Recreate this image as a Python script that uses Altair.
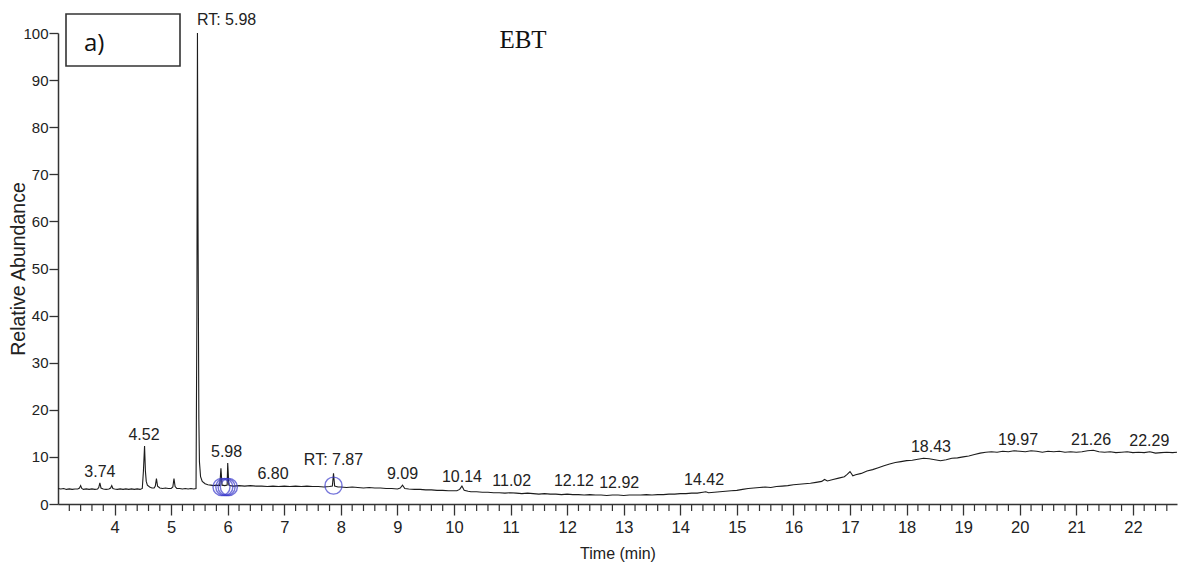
import altair as alt
import pandas as pd

# Total ion chromatogram, (retention time in min, relative abundance in %)
TRACE_3_TO_5_5 = [
    (3.00, 3.3), (3.05, 3.2), (3.10, 3.3), (3.15, 3.1), (3.20, 3.2), (3.25, 3.1),
    (3.30, 3.2), (3.35, 3.2), (3.38, 3.4), (3.40, 3.9), (3.42, 3.3), (3.45, 3.1),
    (3.50, 3.2), (3.55, 3.1), (3.60, 3.2), (3.65, 3.1), (3.70, 3.2), (3.72, 3.5),
    (3.74, 4.5), (3.76, 3.4), (3.80, 3.2), (3.85, 3.1), (3.90, 3.2), (3.93, 3.4),
    (3.95, 3.9), (3.97, 3.3), (4.00, 3.2), (4.05, 3.1), (4.10, 3.2), (4.15, 3.1),
    (4.20, 3.2), (4.25, 3.1), (4.30, 3.2), (4.35, 3.1), (4.40, 3.2), (4.45, 3.1),
    (4.49, 3.3), (4.51, 7.0), (4.53, 12.3), (4.545, 7.0), (4.56, 4.8), (4.58, 4.0),
    (4.62, 3.6), (4.66, 3.4), (4.70, 3.4), (4.72, 3.8), (4.74, 5.4), (4.76, 3.8),
    (4.80, 3.4), (4.85, 3.3), (4.90, 3.4), (4.95, 3.3), (5.00, 3.3), (5.03, 3.6),
    (5.05, 5.4), (5.07, 3.7), (5.10, 3.3), (5.15, 3.3), (5.20, 3.2), (5.25, 3.3),
    (5.30, 3.2), (5.35, 3.3), (5.40, 3.2), (5.44, 3.3), (5.455, 40.0),
    (5.465, 100.0), (5.475, 60.0), (5.49, 18.0), (5.50, 9.0),
]
TRACE_5_5_TO_10 = [
    (5.52, 5.8), (5.55, 4.8), (5.60, 4.3), (5.65, 4.1), (5.70, 4.0), (5.75, 3.9),
    (5.80, 4.0), (5.86, 3.9), (5.88, 7.6), (5.90, 4.0), (5.95, 3.9), (5.99, 4.0),
    (6.00, 8.7), (6.02, 4.0), (6.05, 3.9), (6.10, 3.8), (6.20, 3.9), (6.30, 3.8),
    (6.40, 3.9), (6.50, 3.8), (6.60, 3.8), (6.70, 3.7), (6.80, 3.8), (6.90, 3.7),
    (7.00, 3.8), (7.10, 3.7), (7.20, 3.8), (7.30, 3.7), (7.40, 3.8), (7.50, 3.7),
    (7.60, 3.7), (7.70, 3.6), (7.80, 3.7), (7.85, 3.8), (7.87, 6.5), (7.89, 3.8),
    (7.95, 3.6), (8.00, 3.6), (8.10, 3.5), (8.20, 3.6), (8.30, 3.5), (8.40, 3.4),
    (8.50, 3.5), (8.60, 3.4), (8.70, 3.4), (8.80, 3.3), (8.90, 3.3), (9.00, 3.2),
    (9.05, 3.4), (9.09, 4.0), (9.13, 3.3), (9.20, 3.2), (9.30, 3.1), (9.40, 3.1),
    (9.50, 3.0), (9.60, 3.0), (9.70, 2.9), (9.80, 2.9), (9.90, 2.8), (10.00, 2.8),
]
TRACE_10_TO_16 = [
    (10.05, 2.8), (10.10, 3.1), (10.14, 3.8), (10.18, 2.9), (10.25, 2.7),
    (10.30, 2.6), (10.40, 2.6), (10.50, 2.5), (10.60, 2.5), (10.70, 2.4),
    (10.80, 2.4), (10.90, 2.3), (11.00, 2.4), (11.10, 2.3), (11.20, 2.2),
    (11.30, 2.3), (11.40, 2.2), (11.50, 2.1), (11.60, 2.2), (11.70, 2.1),
    (11.80, 2.1), (11.90, 2.0), (12.00, 2.1), (12.10, 2.0), (12.20, 2.0),
    (12.30, 1.9), (12.40, 2.0), (12.50, 1.9), (12.60, 1.9), (12.70, 1.8),
    (12.80, 1.9), (12.90, 1.9), (13.00, 1.8), (13.10, 1.9), (13.20, 1.9),
    (13.30, 1.9), (13.40, 2.0), (13.50, 1.9), (13.60, 2.0), (13.70, 2.0),
    (13.80, 2.1), (13.90, 2.1), (14.00, 2.2), (14.10, 2.2), (14.20, 2.3),
    (14.30, 2.3), (14.40, 2.5), (14.45, 2.6), (14.50, 2.4), (14.60, 2.5),
    (14.70, 2.6), (14.80, 2.7), (14.90, 2.8), (15.00, 2.9), (15.10, 3.1),
    (15.20, 3.3), (15.30, 3.4), (15.40, 3.5), (15.50, 3.6), (15.60, 3.5),
    (15.70, 3.7), (15.80, 3.8), (15.90, 3.9), (16.00, 4.1),
]
TRACE_16_TO_END = [
    (16.10, 4.2), (16.20, 4.3), (16.30, 4.4), (16.40, 4.6), (16.50, 4.8),
    (16.55, 5.2), (16.60, 4.9), (16.70, 5.2), (16.80, 5.5), (16.90, 5.8),
    (16.95, 6.3), (17.00, 6.9), (17.05, 6.0), (17.10, 6.2), (17.20, 6.5),
    (17.30, 7.0), (17.40, 7.3), (17.50, 7.7), (17.60, 8.1), (17.70, 8.5),
    (17.80, 8.8), (17.90, 9.0), (18.00, 9.2), (18.10, 9.3), (18.20, 9.5),
    (18.30, 9.7), (18.40, 9.6), (18.50, 9.4), (18.60, 9.2), (18.70, 9.4),
    (18.80, 9.7), (18.90, 9.8), (19.00, 10.0), (19.10, 10.2), (19.20, 10.5),
    (19.30, 10.8), (19.40, 11.0), (19.50, 11.1), (19.60, 11.0), (19.70, 11.2),
    (19.80, 11.1), (19.90, 11.3), (20.00, 11.2), (20.10, 11.1), (20.20, 11.3),
    (20.30, 11.2), (20.40, 11.0), (20.50, 11.2), (20.60, 11.1), (20.70, 11.2),
    (20.80, 11.0), (20.90, 11.1), (21.00, 11.0), (21.10, 11.1), (21.20, 11.3),
    (21.30, 11.4), (21.40, 11.1), (21.50, 11.0), (21.60, 11.1), (21.70, 10.9),
    (21.80, 11.0), (21.90, 11.1), (22.00, 10.9), (22.10, 11.0), (22.20, 10.9),
    (22.30, 11.1), (22.40, 10.8), (22.50, 10.9), (22.60, 11.0), (22.70, 10.9),
    (22.78, 11.0),
]

# Peak annotations: text, retention time, height of the label centre
PEAK_TEXT = ["RT: 5.98", "3.74", "4.52", "5.98", "6.80", "RT: 7.87", "9.09",
             "10.14", "11.02", "12.12", "12.92", "14.42", "18.43", "19.97",
             "21.26", "22.29"]
PEAK_RT = [5.98, 3.74, 4.52, 5.98, 6.80, 7.87, 9.09, 10.14, 11.02, 12.12,
           12.92, 14.42, 18.43, 19.97, 21.26, 22.29]
PEAK_LABEL_Y = [102.8, 6.8, 14.6, 11.0, 6.4, 9.3, 6.4, 5.7, 4.9, 4.9, 4.5,
                5.1, 12.1, 13.6, 13.6, 13.4]

# Selected-ion markers
MARK_RT = [5.89, 5.94, 5.98, 6.02, 7.87]
MARK_Y = [3.6, 3.6, 3.6, 3.6, 3.9]

X_MIN, X_MAX = 3.0, 22.78
MAJOR_TICKS = list(range(4, 23))
MINOR_TICKS = [round(3 + 0.2 * i, 1) for i in range(1, 99) if i % 5]

SANS = "Liberation Sans, Arial, sans-serif"
INK = "#222222"
W, H = 1119, 471

trace = pd.DataFrame(
    TRACE_3_TO_5_5 + TRACE_5_5_TO_10 + TRACE_10_TO_16 + TRACE_16_TO_END,
    columns=["time", "abundance"],
)
peaks = pd.DataFrame({"text": PEAK_TEXT, "rt": PEAK_RT, "y": PEAK_LABEL_Y})
marks = pd.DataFrame({"rt": MARK_RT, "y": MARK_Y})
minor = pd.DataFrame({"t": MINOR_TICKS})

x_scale = alt.Scale(domain=[X_MIN, X_MAX], nice=False, zero=False)
y_scale = alt.Scale(domain=[0, 100], nice=False)

x_axis = alt.Axis(
    values=MAJOR_TICKS, format="d", tickSize=11, labelPadding=4,
    labelFont=SANS, labelFontSize=16.5, labelColor=INK,
    title="Time (min)", titleFont=SANS, titleFontSize=16,
    titleFontWeight="normal", titleColor=INK, titleBaseline="middle", titleY=49,
    domainColor="#333333", domainWidth=1.5, tickColor="#333333", tickWidth=1.3,
    grid=False,
)
y_axis = alt.Axis(
    values=list(range(0, 101, 10)), tickSize=9, labelPadding=1,
    labelFont=SANS, labelFontSize=15, labelColor=INK,
    title="Relative Abundance", titleFont=SANS,
    titleFontSize=19.5, titleFontWeight="normal", titleColor=INK,
    titleBaseline="middle", titleX=-40, titleY=H / 2, titleAngle=270,
    domainColor="#333333", domainWidth=1.5, tickColor="#333333", tickWidth=1.3,
    grid=False,
)

line = alt.Chart(trace).mark_line(color="#1c1c1c", strokeWidth=1.1).encode(
    x=alt.X("time:Q", scale=x_scale, axis=x_axis),
    y=alt.Y("abundance:Q", scale=y_scale, axis=y_axis),
)

minor_ticks = alt.Chart(minor).mark_rule(color="#333333", strokeWidth=1.2).encode(
    x=alt.X("t:Q", scale=x_scale),
    y=alt.value(H),
    y2=alt.value(H + 7),
)

rings = alt.Chart(marks).mark_point(
    shape="circle", filled=False, color="#3b3bcc", strokeWidth=1.4, size=290
).encode(
    x=alt.X("rt:Q", scale=x_scale),
    y=alt.Y("y:Q", scale=y_scale),
)

labels = alt.Chart(peaks).mark_text(
    font=SANS, fontSize=16, color=INK, baseline="middle", align="center"
).encode(
    x=alt.X("rt:Q", scale=x_scale),
    y=alt.Y("y:Q", scale=y_scale),
    text="text:N",
)

# Panel tag box with "a)" and the sample name
panel_box = alt.Chart(pd.DataFrame({"k": [0]})).mark_rect(
    fill="white", stroke="#333333", strokeWidth=1.6
).encode(
    x=alt.value(8), x2=alt.value(122), y=alt.value(-19), y2=alt.value(33),
)
panel_tag = alt.Chart(pd.DataFrame({"text": ["a)"]})).mark_text(
    font="Open Sans, Noto Sans, sans-serif", fontSize=24, color="#111111",
    align="left", baseline="middle",
).encode(x=alt.value(26), y=alt.value(11), text="text:N")
sample_name = alt.Chart(pd.DataFrame({"text": ["EBT"]})).mark_text(
    font="Liberation Serif, Times New Roman, serif", fontSize=25, color="#111111",
    align="center", baseline="middle",
).encode(x=alt.value(465), y=alt.value(7), text="text:N")

chart = alt.layer(
    line, minor_ticks, rings, labels, panel_box, panel_tag, sample_name
).properties(
    width=W, height=H,
    padding={"left": 58, "top": 33, "right": 2, "bottom": 62},
    autosize=alt.AutoSizeParams(type="none"),
    background="white",
).configure_view(stroke=None)

chart.save("out.html", embed_options={"renderer": "svg", "actions": False})
